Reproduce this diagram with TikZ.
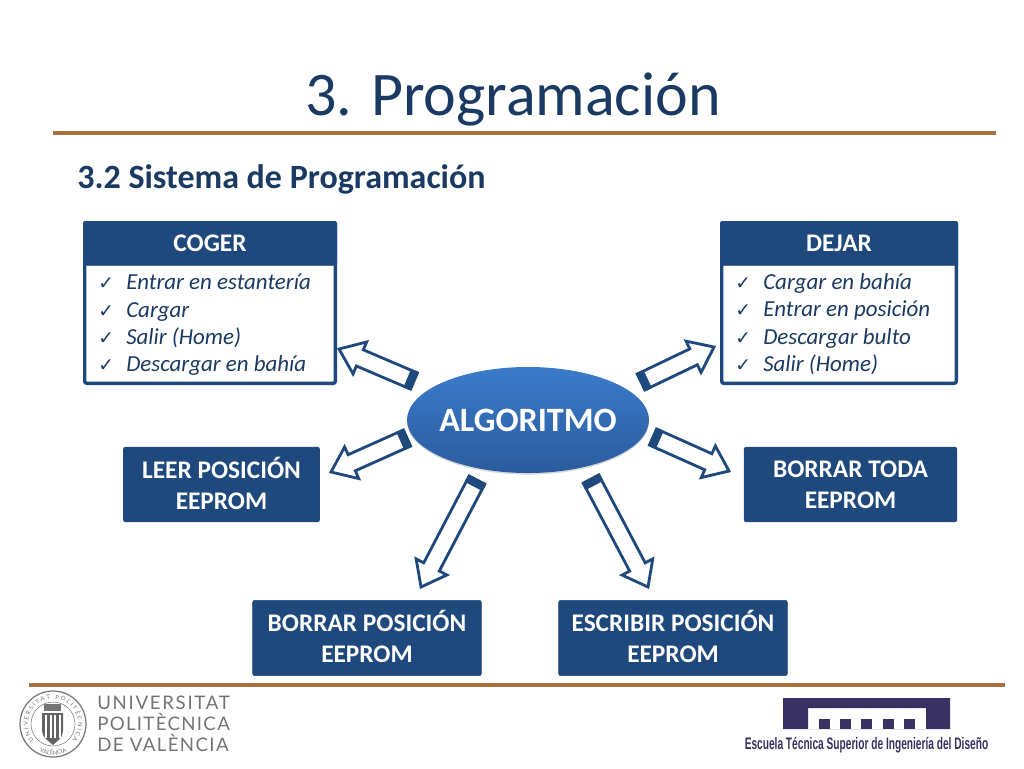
\documentclass[tikz,border=0pt]{standalone}
\usepackage{fontspec}
\setmainfont{Carlito}
\newfontfamily\chkfont{DejaVu Sans}
\newfontfamily\logofont{Lato}
\usetikzlibrary{calc,shapes.geometric,shadows,decorations.text}

\definecolor{boxblue}{HTML}{1F497D}
\definecolor{titleblue}{HTML}{1B3A63}
\definecolor{rulebrown}{HTML}{A8703F}
\definecolor{logogray}{HTML}{747474}
\definecolor{etsidblue}{HTML}{3A3163}
\definecolor{ovaltop}{HTML}{3B7BCB}
\definecolor{ovalbottom}{HTML}{2B5B9E}

\tikzset{
  actionbox/.style={draw=boxblue, fill=boxblue, rounded corners=1.5pt, inner sep=0pt,
    text=white, align=center, font=\fontsize{19}{23}\selectfont\bfseries},
  listbox/.style={draw=boxblue, line width=2.6pt, fill=white, rounded corners=1.5pt, inner sep=0pt,
    anchor=north west},
  listtext/.style={anchor=north west, inner sep=0pt, text=titleblue, align=left,
    font=\fontsize{17.2}{20.45}\selectfont\itshape},
  headbox/.style={actionbox, anchor=north west},
  hollowarrow/.style={draw=boxblue, line width=2.1pt, fill=white, line join=miter,
    drop shadow={shadow xshift=1pt, shadow yshift=-1pt, opacity=.18}},
  hollowcap/.style={fill=boxblue},
  brownrule/.style={draw=rulebrown, line width=2.4pt},
  logotext/.style={text=logogray, anchor=base west, inner sep=0pt, font=\logofont\fontsize{14}{16}\selectfont}
}

\newcommand{\chk}{\makebox[21pt][l]{\chkfont\fontsize{14}{12}\selectfont\upshape ✓}}
\newcommand{\lowpad}{\rule[-2pt]{0pt}{2pt}}

% #1 tail, #2 tip
\newcommand{\blockarrow}[2]{
  \coordinate (hb) at ($(#2)!17pt!(#1)$);
  \coordinate (cb) at ($(#1)!5.5pt!(#2)$);
  \draw[hollowarrow] ($(#1)!6.6pt!90:(#2)$) -- ($(hb)!6.6pt!90:(#2)$)
    -- ($(hb)!13pt!90:(#2)$) -- (#2) -- ($(hb)!13pt!-90:(#2)$)
    -- ($(hb)!6.6pt!-90:(#2)$) -- ($(#1)!6.6pt!-90:(#2)$) -- cycle;
  \fill[hollowcap] ($(#1)!7.5pt!90:(#2)$) -- ($(cb)!7.5pt!90:(#2)$)
    -- ($(cb)!7.5pt!-90:(#2)$) -- ($(#1)!7.5pt!-90:(#2)$) -- cycle;
}

\begin{document}
\begin{tikzpicture}[x=0.75pt, y=-0.75pt]
  \useasboundingbox (0,0) rectangle (1024,768);

  \node[text=titleblue, font=\fontsize{46.5}{50}\selectfont] (title) at (513,99) {3. Programación};
  \draw[brownrule] (53,133) -- (996,133);
  \node[text=titleblue, anchor=base west, inner sep=0pt, font=\fontsize{25.5}{28}\selectfont\bfseries]
    (subtitle) at (77,188) {3.2 Sistema de Programación};

  \node[listbox, minimum width=187.9pt, minimum height=120.4pt] (cogerbody) at (83,221) {};
  \node[listtext] (cogerlist) at (98,274) {\chk Entrar en estantería\\ \chk Cargar\\ \chk Salir (Home)\\ \chk Descargar en bahía};
  \node[headbox, minimum width=190.1pt, minimum height=33pt] (cogerhead) at (83,221) {COGER};

  \node[listbox, minimum width=175.9pt, minimum height=120.4pt] (dejarbody) at (720,221) {};
  \node[listtext] (dejarlist) at (735,273.5) {\chk Cargar en bahía\\ \chk Entrar en posición\\ \chk Descargar bulto\\ \chk Salir (Home)};
  \node[headbox, minimum width=178.1pt, minimum height=33pt] (dejarhead) at (720,221) {DEJAR};

  \node[actionbox, minimum width=147pt, minimum height=56pt] (leer) at (221.5,484.5) {LEER POSICIÓN\\EEPROM\lowpad};
  \node[actionbox, minimum width=159.5pt, minimum height=56pt] (borrartoda) at (850.5,484.5) {BORRAR TODA\\EEPROM};
  \node[actionbox, minimum width=171.5pt, minimum height=56.5pt] (borrarpos) at (367,638) {BORRAR POSICIÓN\\EEPROM\lowpad};
  \node[actionbox, minimum width=171.5pt, minimum height=56.5pt] (escribir) at (673,638) {ESCRIBIR POSICIÓN\\EEPROM\lowpad};

  \node[ellipse, minimum width=181.5pt, minimum height=79.5pt, inner sep=-7pt, text=white,
    top color=ovaltop, bottom color=ovalbottom,
    drop shadow={shadow xshift=0pt, shadow yshift=-1.2pt, opacity=.3},
    font=\fontsize{25.6}{30}\selectfont\bfseries] (algoritmo) at (528,420) {ALGORITMO};

  \coordinate (t1) at (414,381);  \coordinate (h1) at (339,349);
  \coordinate (t2) at (641,382);  \coordinate (h2) at (714,347);
  \coordinate (t3) at (407,438);  \coordinate (h3) at (331,472);
  \coordinate (t4) at (653,437);  \coordinate (h4) at (729,471);
  \coordinate (t5) at (477,480);  \coordinate (h5) at (421,587);
  \coordinate (t6) at (591,479);  \coordinate (h6) at (648,587);
  \blockarrow{t1}{h1}
  \blockarrow{t2}{h2}
  \blockarrow{t3}{h3}
  \blockarrow{t4}{h4}
  \blockarrow{t5}{h5}
  \blockarrow{t6}{h6}

  \draw[brownrule] (29,685) -- (1005,685);

  \draw[logogray, line width=.9pt] (53,724) circle (33);
  \draw[logogray, line width=.4pt] (53,724) circle (22);
  \path[postaction={decorate, decoration={text along path, text align={fit to path},
      text={|\logofont\fontsize{4.4}{6}\selectfont\color{logogray}|UNIVERSITAT POLITÈCNICA}}}]
    (33.85,740.07) arc[start angle=140, end angle=400, radius=25];
  \path[postaction={decorate, decoration={text along path, text align=center,
      text={|\logofont\fontsize{4.4}{6}\selectfont\color{logogray}|VALÈNCIA}}}]
    (33.1,747.7) arc[start angle=130, end angle=50, radius=31];
  \fill[logogray!85!black] (42,713) -- (63,713) -- (63,731) .. controls (63,738) and (57,741) .. (53,745)
    .. controls (49,741) and (42,738) .. (42,731) -- cycle;
  \foreach \s in {45,49.5,54,58.5}
    \fill[white] (\s,715) rectangle +(2,23);
  \fill[logogray] (44,704) rectangle (61,711);

  \node[logotext] (upv1) at (97,709) {\addfontfeature{LetterSpace=9}UNIVERSITAT};
  \node[logotext] (upv2) at (97,730) {\addfontfeature{LetterSpace=7}POLITÈCNICA};
  \node[logotext] (upv3) at (97,751) {\addfontfeature{LetterSpace=7.4}DE VALÈNCIA};

  \fill[etsidblue, even odd rule] (783,698) rectangle (950,729) (808,708) rectangle (926,729);
  \foreach \s in {819,840,861,883,904}
    \fill[etsidblue] (\s,719) rectangle +(11,10);
  \node[inner sep=0pt, text=etsidblue, xscale=.61, font=\fontsize{12.5}{14}\selectfont] (etsid) at (866.5,745)
    {\fontspec{Liberation Sans}\bfseries Escuela Técnica Superior de Ingeniería del Diseño};
\end{tikzpicture}
\end{document}
